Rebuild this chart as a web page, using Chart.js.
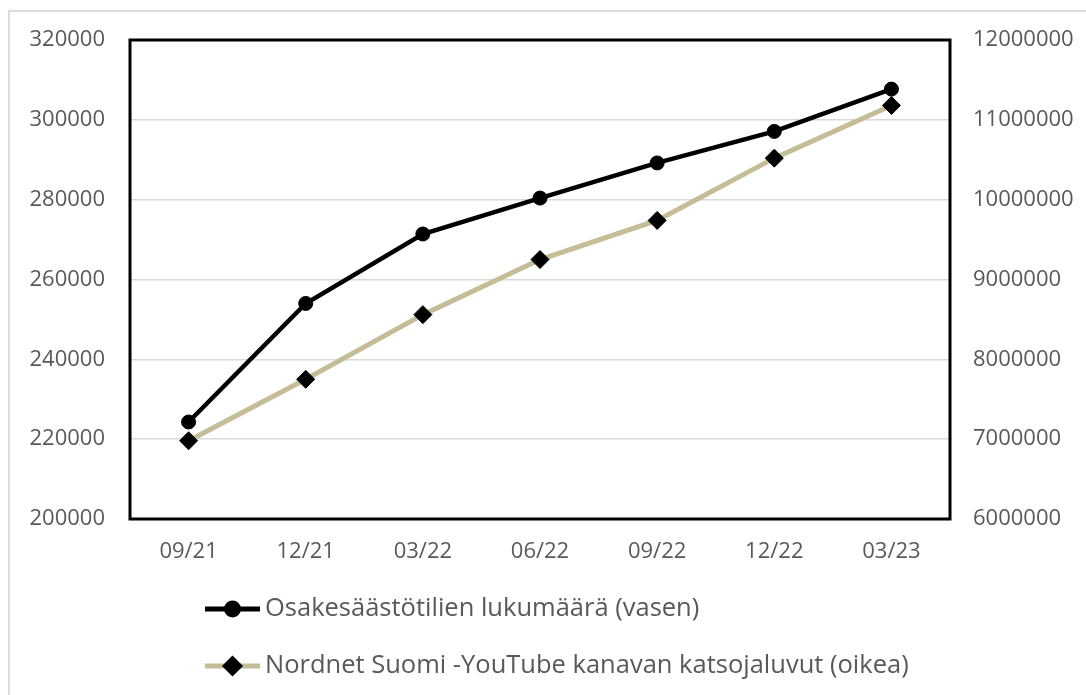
<!DOCTYPE html>
<html>
<head>
<meta charset="utf-8">
<title>Osakesäästötilit ja YouTube-katsojaluvut</title>
<script src="https://cdn.jsdelivr.net/npm/chart.js@4/dist/chart.umd.min.js"></script>
<style>
  html, body { margin: 0; padding: 0; background: #ffffff; overflow: hidden; }
  #wrap { position: relative; width: 1086px; height: 695px; }
  #frame {
    position: absolute; left: 8px; top: 10px; width: 1100px; height: 720px;
    border: 2px solid #dcdcdc; box-sizing: border-box;
  }
  canvas { position: absolute; left: 0; top: 0; }
</style>
</head>
<body>
<div id="wrap">
  <div id="frame"></div>
  <canvas id="chart" width="1086" height="695"></canvas>
</div>
<script>
// Quarter labels
const quarters = ['09/21', '12/21', '03/22', '06/22', '09/22', '12/22', '03/23'];

// Number of equity savings accounts (left axis)
const accounts = [224300, 254000, 271400, 280400, 289200, 297100, 307700];

// Nordnet Suomi YouTube channel view counts (right axis)
const youtubeViews = [6980000, 7750000, 8560000, 9250000, 9740000, 10520000, 11180000];

// Axis tick labels
const leftTicks = ['200000', '220000', '240000', '260000', '280000', '300000', '320000'];
const rightTicks = ['6000000', '7000000', '8000000', '9000000', '10000000', '11000000', '12000000'];

// Series names
const seriesNames = [
  'Osakesäästötilien lukumäärä (vasen)',
  'Nordnet Suomi -YouTube kanavan katsojaluvut (oikea)'
];

const FONT = "'Open Sans', 'Liberation Sans', sans-serif";
const TEXT = '#595959';

// Black frame around the plot area
const plotFrame = {
  id: 'plotFrame',
  beforeDatasetsDraw(chart) {
    const { ctx, chartArea: a } = chart;
    ctx.save();
    ctx.strokeStyle = '#000000';
    ctx.lineWidth = 3;
    ctx.strokeRect(a.left, a.top, a.right - a.left, a.bottom - a.top);
    ctx.restore();
  }
};

// Stacked legend under the plot, one series per row
const stackedLegend = {
  id: 'stackedLegend',
  afterDraw(chart) {
    const { ctx } = chart;
    const rows = [609, 666];
    const x0 = 205, x1 = 260;
    ctx.save();
    chart.data.datasets.forEach((ds, i) => {
      const y = rows[i];
      ctx.strokeStyle = ds.borderColor;
      ctx.lineWidth = 5;
      ctx.lineCap = 'butt';
      ctx.beginPath();
      ctx.moveTo(x0, y);
      ctx.lineTo(x1, y);
      ctx.stroke();
      ctx.fillStyle = ds.pointBackgroundColor;
      ctx.strokeStyle = ds.pointBorderColor;
      Chart.helpers.drawPoint(ctx, {
        pointStyle: ds.pointStyle,
        radius: ds.legendPointRadius,
        rotation: 0,
        borderWidth: 1
      }, (x0 + x1) / 2, y);
      ctx.fillStyle = TEXT;
      ctx.font = "25.5px " + FONT;
      ctx.textBaseline = 'middle';
      ctx.textAlign = 'left';
      ctx.fillText(ds.label, 265, y);
    });
    ctx.restore();
  }
};

new Chart(document.getElementById('chart'), {
  type: 'line',
  data: {
    labels: quarters,
    datasets: [
      {
        label: seriesNames[0],
        data: accounts,
        yAxisID: 'y',
        borderColor: '#000000',
        borderWidth: 4.5,
        pointStyle: 'circle',
        pointRadius: 7,
        legendPointRadius: 6,
        pointBackgroundColor: '#000000',
        pointBorderColor: '#000000',
        pointBorderWidth: 1,
        tension: 0
      },
      {
        label: seriesNames[1],
        data: youtubeViews,
        yAxisID: 'y1',
        borderColor: '#c4bd97',
        borderWidth: 5,
        pointStyle: 'rectRot',
        pointRadius: 9,
        legendPointRadius: 7,
        pointBackgroundColor: '#000000',
        pointBorderColor: '#000000',
        pointBorderWidth: 1,
        tension: 0
      }
    ]
  },
  options: {
    responsive: false,
    animation: false,
    layout: { padding: { top: 40, left: 0, right: 0, bottom: 0 } },
    plugins: {
      legend: { display: false },
      tooltip: { enabled: false }
    },
    scales: {
      x: {
        offset: true,
        grid: { display: false, drawTicks: false },
        border: { display: false },
        ticks: {
          color: TEXT,
          font: { family: FONT, size: 22 },
          padding: 20,
          maxRotation: 0,
          autoSkip: false
        },
        afterFit(scale) { scale.height = 176; }
      },
      y: {
        position: 'left',
        min: 200000,
        max: 320000,
        grid: { color: '#d9d9d9', lineWidth: 1.5, drawTicks: false },
        border: { display: false },
        ticks: {
          stepSize: 20000,
          color: TEXT,
          font: { family: FONT, size: 22 },
          padding: 25,
          callback: (v, i) => leftTicks[i]
        },
        afterFit(scale) { scale.width = 130; }
      },
      y1: {
        position: 'right',
        min: 6000000,
        max: 12000000,
        grid: { display: false, drawTicks: false },
        border: { display: false },
        ticks: {
          stepSize: 1000000,
          color: TEXT,
          font: { family: FONT, size: 22 },
          padding: 23,
          callback: (v, i) => rightTicks[i]
        },
        afterFit(scale) { scale.width = 136; }
      }
    }
  },
  plugins: [plotFrame, stackedLegend]
});
</script>
</body>
</html>
